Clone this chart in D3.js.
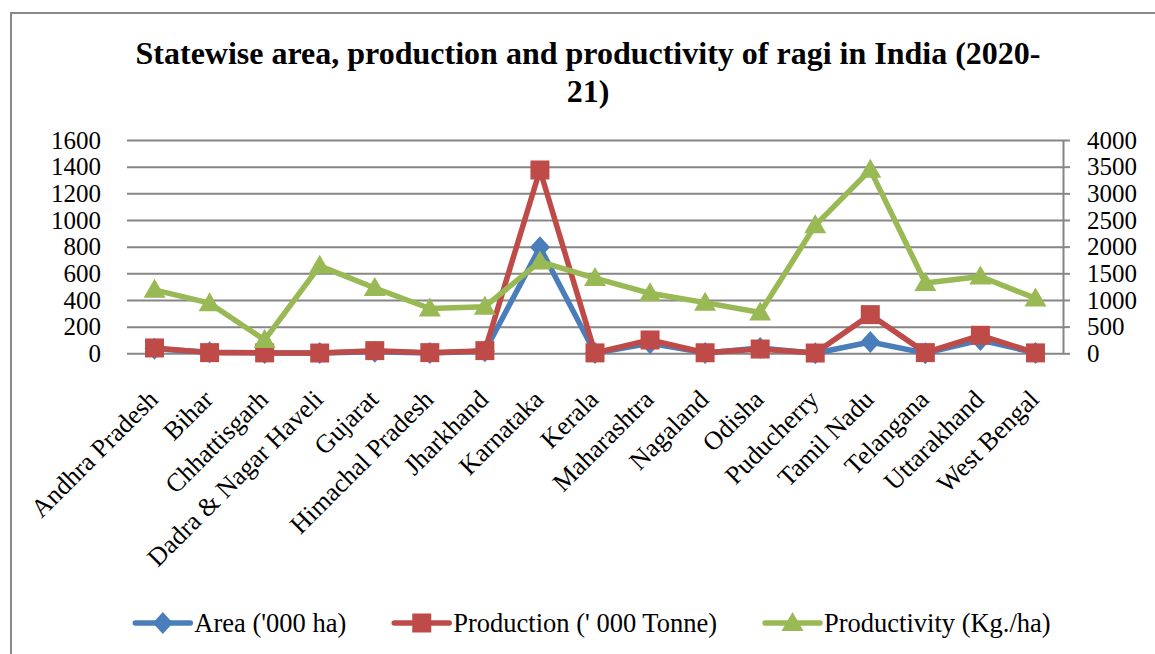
<!DOCTYPE html>
<html>
<head>
<meta charset="utf-8">
<script src="https://cdn.jsdelivr.net/npm/d3@7"></script>
<style>
  body { margin: 0; background: #fff; }
  text { font-family: "Liberation Serif", "Times New Roman", serif; fill: #000; }
</style>
</head>
<body>
<svg id="chart"></svg>
<script>
// values
const states = ["Andhra Pradesh", "Bihar", "Chhattisgarh", "Dadra & Nagar Haveli", "Gujarat",
  "Himachal Pradesh", "Jharkhand", "Karnataka", "Kerala", "Maharashtra", "Nagaland", "Odisha",
  "Puducherry", "Tamil Nadu", "Telangana", "Uttarakhand", "West Bengal"];
const area = [35, 8, 3, 2, 12, 2, 15, 795, 2, 75, 3, 40, 0, 85, 1, 100, 3];
const production = [40, 5, 3, 2, 20, 5, 20, 1375, 3, 100, 4, 32, 2, 290, 5, 135, 3];
const productivity = [1190, 940, 250, 1640, 1225, 840, 875, 1720, 1410, 1125, 950, 765, 2400, 3440, 1320, 1440, 1030];
const leftTicks = [0, 200, 400, 600, 800, 1000, 1200, 1400, 1600];
const rightTicks = [0, 500, 1000, 1500, 2000, 2500, 3000, 3500, 4000];

const sg = { width: 1155, height: 654, left: 127, right: 1063, top: 140, bottom: 353.3 };

const series = [
  { name: "Area ('000 ha)", values: area, color: "#4a7ebb", shape: "diamond", axis: "left" },
  { name: "Production (' 000 Tonne)", values: production, color: "#be4b48", shape: "square", axis: "left" },
  { name: "Productivity (Kg./ha)", values: productivity, color: "#98b954", shape: "triangle", axis: "right" }
];

const svg = d3.select("#chart").attr("width", sg.width).attr("height", sg.height);

// chart frame
svg.append("path")
  .attr("d", `M11,${sg.height + 5}V13H${sg.width + 5}`)
  .attr("fill", "none").attr("stroke", "#898989").attr("stroke-width", 2);

const x = d3.scalePoint().domain(states).range([sg.left, sg.right]).padding(0.5);
const yL = d3.scaleLinear().domain([0, 1600]).range([sg.bottom, sg.top]);
const yR = d3.scaleLinear().domain([0, 4000]).range([sg.bottom, sg.top]);

// gridlines + left labels
const gLeft = svg.append("g").attr("transform", `translate(${sg.left},0)`)
  .call(d3.axisLeft(yL).tickValues(leftTicks).tickFormat(d3.format("d"))
    .tickSize(-(sg.right - sg.left)).tickPadding(26));
gLeft.select(".domain").remove();
gLeft.selectAll(".tick line").attr("stroke", "#868686").attr("stroke-width", 2);
gLeft.selectAll(".tick text").style("font-size", "25px").attr("dy", "0.33em");

// right axis
const gRight = svg.append("g").attr("transform", `translate(${sg.right},0)`)
  .call(d3.axisRight(yR).tickValues(rightTicks).tickFormat(d3.format("d"))
    .tickSize(7).tickSizeOuter(0).tickPadding(17));
gRight.select(".domain").attr("stroke", "#868686").attr("stroke-width", 2);
gRight.selectAll(".tick line").attr("stroke", "#868686").attr("stroke-width", 2);
gRight.selectAll(".tick text").style("font-size", "25px").attr("dy", "0.33em");

// category labels
svg.append("g").selectAll("text")
  .data(states)
  .join("text")
  .attr("transform", d => `translate(${x(d) + 5},401) rotate(-45)`)
  .attr("text-anchor", "end")
  .style("font-size", "26px")
  .text(d => d);

function marker(shape) {
  if (shape === "square") return d3.symbol(d3.symbolSquare, 19 * 19)();
  if (shape === "diamond") return "M0,-11L10,0L0,11L-10,0Z";
  return "M0,-11L11,8L-11,8Z";
}

const line = (yScale) => d3.line().x((d, i) => x(states[i])).y(d => yScale(d));

series.forEach(s => {
  const yScale = s.axis === "left" ? yL : yR;
  const g = svg.append("g");
  g.append("path")
    .datum(s.values)
    .attr("d", line(yScale))
    .attr("fill", "none")
    .attr("stroke", s.color)
    .attr("stroke-width", 5.5)
    .attr("stroke-linejoin", "round");
  g.selectAll("path.mk")
    .data(s.values)
    .join("path")
    .attr("class", "mk")
    .attr("transform", (d, i) => `translate(${x(states[i])},${yScale(d)})`)
    .attr("d", marker(s.shape))
    .attr("fill", s.color);
});

// title
const title = svg.append("text")
  .attr("text-anchor", "middle")
  .style("font-size", "32px").style("font-weight", "bold");
title.append("tspan").attr("x", 588).attr("y", 64).text("Statewise area, production and productivity of ragi in India (2020-");
title.append("tspan").attr("x", 588).attr("y", 102).text("21)");

// legend
const legend = svg.append("g").attr("transform", "translate(0,623)");
const items = legend.selectAll("g").data(series).join("g");
items.append("line").attr("x1", 0).attr("x2", 55)
  .attr("stroke", d => d.color).attr("stroke-width", 5.5).attr("stroke-linecap", "round");
items.append("path").attr("transform", "translate(27.5,0)").attr("d", d => marker(d.shape)).attr("fill", d => d.color);
items.append("text").attr("x", 59).attr("dy", "0.33em").style("font-size", "26.5px").text(d => d.name);
let widths = [];
items.each(function() { widths.push(59 + this.querySelector("text").getComputedTextLength()); });
const gap = 48;
const total = d3.sum(widths) + gap * (widths.length - 1);
let cursor = 593 - total / 2;
items.attr("transform", (d, i) => {
  const t = `translate(${cursor},0)`;
  cursor += widths[i] + gap;
  return t;
});
</script>
</body>
</html>
